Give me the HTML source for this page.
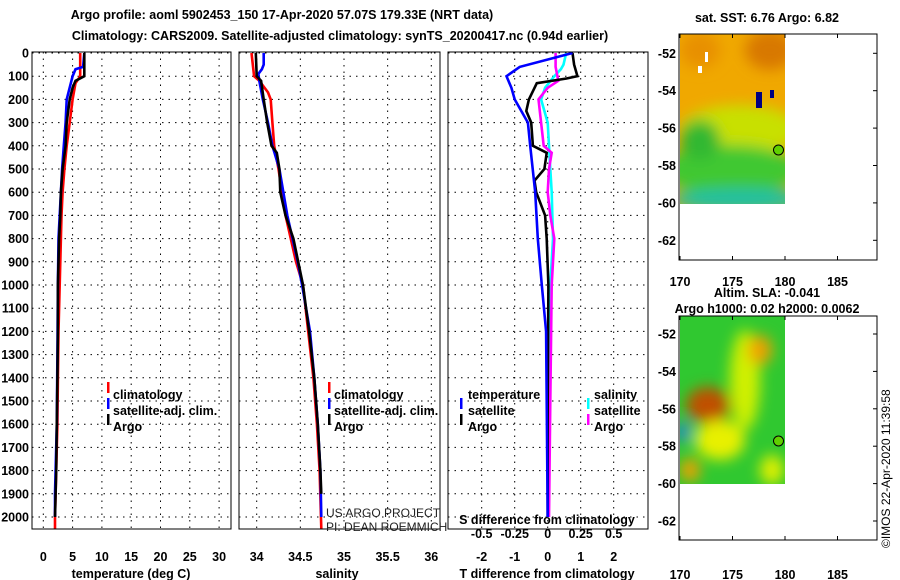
<!DOCTYPE html>
<html><head><meta charset="utf-8"><style>
body{margin:0;background:#fff}
svg{display:block;font-family:"Liberation Sans",sans-serif}
.b{font-weight:bold;font-size:12.5px}
.g{stroke:#000;stroke-width:1;stroke-dasharray:1.5,5}
</style></head><body>
<svg id="c" width="900" height="580" viewBox="0 0 900 580">
<defs>
<filter id="bl" x="-50%" y="-50%" width="200%" height="200%"><feGaussianBlur stdDeviation="7"/></filter>
<filter id="bl2"><feGaussianBlur stdDeviation="2"/></filter>
<clipPath id="m1c"><rect x="680" y="34" width="105" height="170"/></clipPath>
<clipPath id="m2c"><rect x="680" y="316" width="105" height="168"/></clipPath>
</defs>
<text class="b" x="282" y="19" font-size="13.5" text-anchor="middle">Argo profile: aoml 5902453_150 17-Apr-2020 57.07S 179.33E (NRT data)</text>
<text class="b" x="340" y="40" text-anchor="middle">Climatology: CARS2009. Satellite-adjusted climatology: synTS_20200417.nc (0.94d earlier)</text>
<g id="grid"></g>
<g id="lines"></g>
<rect x="32" y="52" width="199" height="477" fill="none" stroke="#000"/>
<rect x="239" y="52" width="201" height="477" fill="none" stroke="#000"/>
<rect x="448" y="52" width="200" height="477" fill="none" stroke="#000"/>
<g id="labels" class="b"></g>
<text class="b" x="131" y="578" text-anchor="middle">temperature (deg C)</text>
<text class="b" x="337" y="578" text-anchor="middle">salinity</text>
<text class="b" x="547" y="578" text-anchor="middle">T difference from climatology</text>
<text class="b" x="547" y="524" text-anchor="middle">S difference from climatology</text>
<g class="b">
<rect x="107" y="382" width="2.5" height="11" fill="#f00"/><text x="113" y="399">climatology</text>
<rect x="107" y="398" width="2.5" height="11" fill="#00f"/><text x="113" y="415">satellite-adj. clim.</text>
<rect x="107" y="414" width="2.5" height="11" fill="#000"/><text x="113" y="431">Argo</text>
</g>
<g class="b">
<rect x="328" y="382" width="2.5" height="11" fill="#f00"/><text x="334" y="399">climatology</text>
<rect x="328" y="398" width="2.5" height="11" fill="#00f"/><text x="334" y="415">satellite-adj. clim.</text>
<rect x="328" y="414" width="2.5" height="11" fill="#000"/><text x="334" y="431">Argo</text>
</g>
<g class="b">
<text x="468" y="399">temperature</text>
<rect x="460" y="398" width="2.5" height="11" fill="#00f"/><text x="468" y="415">satellite</text>
<rect x="460" y="414" width="2.5" height="11" fill="#000"/><text x="468" y="431">Argo</text>
<text x="594" y="399">salinity</text>
<rect x="587" y="398" width="2.5" height="11" fill="#0ff"/><text x="594" y="415">satellite</text>
<rect x="587" y="414" width="2.5" height="11" fill="#f0f"/><text x="594" y="431">Argo</text>
</g>
<text x="326" y="517" font-size="12" fill="#222">US ARGO PROJECT</text>
<text x="326" y="531" font-size="12" fill="#222">PI: DEAN ROEMMICH</text>
<!-- maps -->
<text class="b" x="767" y="22" text-anchor="middle">sat. SST: 6.76 Argo: 6.82</text>
<text class="b" x="767" y="297" text-anchor="middle">Altim. SLA: -0.041</text>
<text class="b" x="767" y="313" text-anchor="middle">Argo h1000: 0.02 h2000: 0.0062</text>
<g clip-path="url(#m1c)">
<rect x="680" y="34" width="105" height="170" fill="#f0a800"/>
<g filter="url(#bl)">
<ellipse cx="770" cy="50" rx="25" ry="20" fill="#d87800"/>
<ellipse cx="700" cy="50" rx="20" ry="18" fill="#e89000"/>
<ellipse cx="740" cy="130" rx="60" ry="25" fill="#c8e000"/>
<ellipse cx="730" cy="170" rx="70" ry="25" fill="#40c830"/>
<ellipse cx="700" cy="140" rx="20" ry="20" fill="#30b830"/>
<ellipse cx="740" cy="200" rx="70" ry="12" fill="#20c0a0"/>
</g>
<rect x="756" y="92" width="6" height="16" fill="#000080"/>
<rect x="770" y="90" width="4" height="8" fill="#000080"/>
<rect x="698" y="66" width="4" height="7" fill="#fff"/><rect x="705" y="52" width="3" height="10" fill="#fff"/>
</g>
<rect x="679" y="34" width="198" height="226" fill="none" stroke="#000"/>
<g clip-path="url(#m2c)">
<rect x="680" y="316" width="105" height="168" fill="#30c830"/>
<g filter="url(#bl)">
<ellipse cx="745" cy="380" rx="15" ry="50" fill="#d0f000"/>
<ellipse cx="760" cy="350" rx="12" ry="15" fill="#f0a000"/>
<ellipse cx="708" cy="405" rx="22" ry="18" fill="#c05000"/>
<ellipse cx="720" cy="440" rx="25" ry="20" fill="#e8f000"/>
<ellipse cx="690" cy="470" rx="10" ry="12" fill="#f0a000"/>
<ellipse cx="683" cy="432" rx="7" ry="10" fill="#2080e0"/>
<ellipse cx="772" cy="470" rx="12" ry="15" fill="#e0f000"/>
</g>
</g>
<rect x="679" y="316" width="198" height="224" fill="none" stroke="#000"/>
<circle cx="778.5" cy="150" r="5" fill="#60d000" stroke="#000"/>
<circle cx="778.5" cy="441" r="5" fill="#60d000" stroke="#000"/>
<g id="maplabels" class="b"></g>
<text x="890" y="548" font-size="12" transform="rotate(-90 890 548)">©IMOS 22-Apr-2020 11:39:58</text>
</svg>
<script>
const depthTicks=[0,100,200,300,400,500,600,700,800,900,1000,1100,1200,1300,1400,1500,1600,1700,1800,1900,2000];
const tempTicks=[0,5,10,15,20,25,30];
const salTicks=[34,34.5,35,35.5,36];
const tdTicks=[-2,-1,0,1,2];
const sdTicks=[-0.5,-0.25,0,0.25,0.5];
const latTicks=[-52,-54,-56,-58,-60,-62];
const lonTicks=[170,175,180,185];

const tClimD=[0,100,130,200,300,400,500,600,700,800,900,1000,1200,1400,1600,1800,2000,2050];
const tClimV=[6.3,6.3,5.5,5.0,4.5,4.0,3.6,3.3,3.1,3.0,2.9,2.8,2.6,2.5,2.4,2.2,2.0,2.0];
const tSatD=[0,60,70,100,200,300,400,500,600,700,800,1000,1300,1600,1900,2000];
const tSatV=[7.0,6.8,5.5,5.0,4.0,3.8,3.5,3.2,3.0,2.8,2.6,2.5,2.4,2.3,2.0,2.0];
const tArgoD=[0,100,120,150,200,300,400,500,600,700,800,900,1000,1200,1400,1600,1800,2000];
const tArgoV=[7.0,7.0,5.5,5.0,4.5,4.0,3.8,3.3,3.0,2.9,2.7,2.6,2.5,2.5,2.4,2.3,2.2,2.0];

const sClimD=[0,100,120,170,200,300,400,500,700,900,1000,1200,1400,1600,1800,2050];
const sClimV=[33.94,33.97,34.03,34.13,34.16,34.18,34.2,34.25,34.33,34.45,34.53,34.59,34.65,34.69,34.72,34.74];
const sSatD=[0,50,70,90,120,200,300,400,500,700,900,1000,1200,1400,1600,1800,2000];
const sSatV=[34.08,34.08,34.06,34.02,34.03,34.07,34.13,34.18,34.26,34.35,34.47,34.52,34.61,34.66,34.70,34.73,34.74];
const sArgoD=[0,100,120,200,300,400,430,500,600,700,800,1000,1200,1400,1600,1800,1900];
const sArgoV=[33.99,34.0,34.05,34.08,34.12,34.17,34.23,34.26,34.27,34.33,34.42,34.53,34.60,34.66,34.70,34.73,34.74];

const tdSatD=[0,60,100,150,200,300,400,600,800,1000,1200,1500,2000];
const tdSatV=[0.75,-0.85,-1.25,-1.1,-1.0,-0.6,-0.53,-0.38,-0.3,-0.18,-0.05,-0.03,0];
const tdArgoD=[0,50,100,110,130,200,250,300,400,430,500,550,600,700,800,1000,1500,2000];
const tdArgoV=[0.75,0.8,0.9,0.57,-0.33,-0.57,-0.65,-0.5,-0.45,-0.03,-0.1,-0.4,-0.35,-0.08,-0.03,0.02,0,0];
const sdSatD=[0,50,70,100,150,200,300,400,500,600,800,1000,1500,2000];
const sdSatV=[0.14,0.12,0.1,0.05,-0.02,-0.05,0,0.01,0.02,0.03,0.04,0.02,0.01,0];
const sdArgoD=[0,60,120,150,200,300,400,430,500,600,700,800,1000,1500,2000];
const sdArgoV=[0.06,0.06,0.08,0,-0.07,-0.05,-0.03,0.03,0.01,0,0.02,0.05,0.03,0.02,0.01];

const NS='http://www.w3.org/2000/svg';
const yD=d=>53+d*0.232;
const xT=t=>43.3+t*5.86;
const xS=s=>256.7+(s-34)*87.3;
const xTd=v=>547.7+v*33;
const xSd=v=>547.7+v*132;
const xLon=l=>680+(l-170)*10.5;
const yLat1=l=>53.3+(-52-l)*18.7;
const yLat2=l=>334+(-52-l)*18.7;
function mk(tag,attrs,parent){const e=document.createElementNS(NS,tag);for(const k in attrs)e.setAttribute(k,attrs[k]);parent.appendChild(e);return e;}
const grid=document.getElementById('grid'),lines=document.getElementById('lines'),labels=document.getElementById('labels'),ml=document.getElementById('maplabels');
const panels=[[32,231],[239,440],[448,648]];
depthTicks.forEach(d=>{
  panels.forEach(p=>{const l=mk('line',{x1:p[0],x2:p[1],y1:yD(d),y2:yD(d),class:'g'},grid);
  
  });
  const t=mk('text',{x:29,y:yD(d)+4.5,'text-anchor':'end'},labels);t.textContent=d;
  
  
});
function vticks(ticks,fx,y1,ly,fmt,nm){ticks.forEach(v=>{
  const l=mk('line',{x1:fx(v),x2:fx(v),y1:52,y2:529,class:'g'},grid);
  
  
  const t=mk('text',{x:fx(v),y:ly,'text-anchor':'middle'},labels);t.textContent=fmt(v);
  
  });}
vticks(tempTicks,xT,0,561,v=>v,'temperature');
vticks(salTicks,xS,0,561,v=>v,'salinity');
vticks(tdTicks,xTd,0,561,v=>v,'t-difference');
sdTicks.forEach(v=>{const t=mk('text',{x:xSd(v),y:538,'text-anchor':'middle'},labels);t.textContent=v;
  
  });
function series(D,V,fx,col,nm){const pts=D.map((d,i)=>fx(V[i]).toFixed(1)+','+yD(d).toFixed(1)).join(' ');
  const p=mk('polyline',{points:pts,fill:'none',stroke:col,'stroke-width':2.6},lines);
  
  }
series(tClimD,tClimV,xT,'#f00','temperature-climatology-line');
series(tSatD,tSatV,xT,'#00f','temperature-satellite-line');
series(tArgoD,tArgoV,xT,'#000','temperature-argo-line');
series(sClimD,sClimV,xS,'#f00','salinity-climatology-line');
series(sSatD,sSatV,xS,'#00f','salinity-satellite-line');
series(sArgoD,sArgoV,xS,'#000','salinity-argo-line');
series(sdSatD,sdSatV,xSd,'#0ff','s-difference-satellite-line');
series(sdArgoD,sdArgoV,xSd,'#f0f','s-difference-argo-line');
series(tdArgoD,tdArgoV,xTd,'#000','t-difference-argo-line');
series(tdSatD,tdSatV,xTd,'#00f','t-difference-satellite-line');
[[yLat1,260,286,34],[yLat2,540,579,316]].forEach(m=>{
  latTicks.forEach(l=>{const t=mk('text',{x:676,y:m[0](l)+4.5,'text-anchor':'end'},ml);t.textContent=l;
    
    
    mk('line',{x1:873,x2:877,y1:m[0](l),y2:m[0](l),stroke:'#000'},ml);});
  lonTicks.forEach(l=>{const t=mk('text',{x:xLon(l),y:m[2],'text-anchor':'middle'},ml);t.textContent=l;
    
    
    mk('line',{x1:xLon(l),x2:xLon(l),y1:m[1]-4,y2:m[1],stroke:'#000'},ml);
    mk('line',{x1:xLon(l),x2:xLon(l),y1:m[3],y2:m[3]+4,stroke:'#000'},ml);});
});
</script>
</body></html>
